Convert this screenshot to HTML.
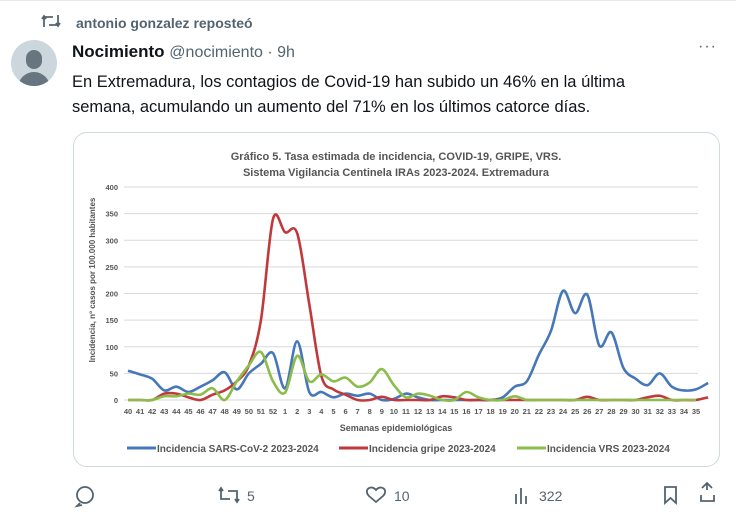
<!DOCTYPE html>
<html><head><meta charset="utf-8"><style>
body{margin:0;width:736px;height:532px;background:#fff;font-family:"Liberation Sans",sans-serif;position:relative;overflow:hidden;color:#0f1419}
.a{position:absolute;white-space:nowrap}
</style></head><body>
<div class="a" style="left:0;top:0;width:736px;height:1px;background:#e6e6e6"></div>
<div class="a" style="left:76px;top:15px;font-size:14px;font-weight:bold;color:#536471">antonio gonzalez reposteó</div>
<div class="a" style="left:11px;top:40px;width:46px;height:46px;border-radius:50%;background:#ccd6dd;overflow:hidden">
 <div class="a" style="left:15px;top:10px;width:16px;height:19px;border-radius:8px;background:#66757f"></div>
 <div class="a" style="left:7px;top:32px;width:32px;height:24px;border-radius:16px 16px 0 0;background:#66757f"></div>
</div>
<div class="a" style="left:72px;top:42px;font-size:17px"><b>Nocimiento</b> <span style="color:#536471;font-size:16px">@nocimiento · 9h</span></div>
<div class="a" style="left:698px;top:38px;font-size:16px;color:#536471;letter-spacing:1px">···</div>
<div class="a" style="left:72px;top:70px;font-size:16.5px;line-height:25px">En Extremadura, los contagios de Covid-19 han subido un 46% en la última<br>semana, acumulando un aumento del 71% en los últimos catorce días.</div>
<div class="a" style="left:73px;top:132px;width:645px;height:333px;border:1px solid #cfd9de;border-radius:14px"></div>
<svg class="a" style="left:0;top:0" width="736" height="532" id="s" font-family="Liberation Sans, sans-serif">
<g fill="none" stroke="#536471" stroke-width="1.8">
<path d="M44 27 v-10 h9 M42 19 l2-3 2 3 M58 15 v10 h-9 M56 23 l2 3 2-3"/>
</g>
<text x="396" y="160" font-size="11" font-weight="bold" fill="#555" text-anchor="middle">Gráfico 5. Tasa estimada de incidencia, COVID-19, GRIPE, VRS.</text>
<text x="396" y="176" font-size="11" font-weight="bold" fill="#555" text-anchor="middle">Sistema Vigilancia Centinela IRAs 2023-2024. Extremadura</text>
<text x="95" y="280" font-size="8" font-weight="bold" fill="#555" text-anchor="middle" transform="rotate(-90 95 280)">Incidencia, nº casos por 100.000 habitantes</text>
<text x="396" y="431" font-size="9" font-weight="bold" fill="#555" text-anchor="middle">Semanas epidemiológicas</text>
<g id="g"></g>
<g font-size="10" font-weight="bold" fill="#555">
<line x1="127" y1="448" x2="156" y2="448" stroke="#4677b8" stroke-width="3"/><text x="157" y="452">Incidencia SARS-CoV-2 2023-2024</text>
<line x1="339" y1="448" x2="368" y2="448" stroke="#c0393b" stroke-width="3"/><text x="369" y="452">Incidencia gripe 2023-2024</text>
<line x1="517" y1="448" x2="546" y2="448" stroke="#8bbd4a" stroke-width="3"/><text x="547" y="452">Incidencia VRS 2023-2024</text>
</g>
<g fill="none" stroke="#536471" stroke-width="1.8">
<circle cx="85" cy="495" r="8"/><path d="M80 503 l-3 3 l5 -1"/>
<path d="M376 490 c-5-6-13 0-7 6 l7 6 7-6 c6-6-2-12-7-6z"/>
<path d="M516 504 v-10 M521 504 v-16 M526 504 v-8"/>
<path d="M665 487 h11 v16 l-5.5-5 -5.5 5z"/>
<path d="M707 490 v-7 m-5 5 l5-5 5 5 M701 495 v6 h13 v-6"/>
<path d="M221 489 v10 h9 M219 491 l2-3 2 3 M237 501 v-10 h-9 M235 499 l2 3 2-3"/>
</g>
<g font-size="14" fill="#536471"><text x="247" y="501">5</text><text x="394" y="501">10</text><text x="539" y="501">322</text></g>
</svg>
<script>
const ns="http://www.w3.org/2000/svg",g=document.getElementById("g");
const X=i=>128+i*568/47,Y=v=>400-v*213/400;
function el(t,a,txt){const e=document.createElementNS(ns,t);for(const k in a)e.setAttribute(k,a[k]);if(txt!=null)e.textContent=txt;g.appendChild(e);return e}
for(let v=0;v<=400;v+=50){el("line",{x1:124,x2:698,y1:Y(v),y2:Y(v),stroke:"#d9d9d9","stroke-width":1});el("text",{x:118,y:Y(v)+3,"font-size":7.5,"font-weight":"bold",fill:"#555","text-anchor":"end"},v)}
const wk=[];for(let w=40;w<=52;w++)wk.push(w);for(let w=1;w<=35;w++)wk.push(w);
wk.forEach((w,i)=>el("text",{x:X(i),y:414,"font-size":7.5,"font-weight":"bold",fill:"#555","text-anchor":"middle"},w));
const sars=[55,48,40,18,25,15,25,37,52,20,50,68,88,22,110,15,15,5,12,8,12,0,2,12,5,0,0,0,0,0,0,5,25,35,85,130,205,163,198,102,127,60,40,28,50,25,18,20,32];
const gripe=[0,0,0,12,12,5,0,10,18,35,65,150,340,315,313,180,45,20,10,0,0,6,0,0,0,0,7,5,0,0,0,0,0,0,0,0,0,0,6,0,0,0,0,5,8,0,0,0,5];
const vrs=[0,0,0,7,7,12,10,22,0,35,65,90,35,14,83,35,48,35,42,25,33,58,28,5,12,8,0,0,15,5,0,0,7,0,0,0,0,0,0,0,0,0,0,0,0,0,0,0];
function path(d){const p=d.map((v,i)=>[X(i),Y(v)]);let s="M"+p[0];for(let i=0;i<p.length-1;i++){const a=p[i-1]||p[i],b=p[i],c=p[i+1],e=p[i+2]||c;s+=` C${b[0]+(c[0]-a[0])/6},${b[1]+(c[1]-a[1])/6} ${c[0]-(e[0]-b[0])/6},${c[1]-(e[1]-b[1])/6} ${c[0]},${c[1]}`}return s}
[[sars,"#4677b8"],[gripe,"#c0393b"],[vrs,"#8bbd4a"]].forEach(([d,c])=>el("path",{d:path(d),fill:"none",stroke:c,"stroke-width":2.6}));
</script>
</body></html>
